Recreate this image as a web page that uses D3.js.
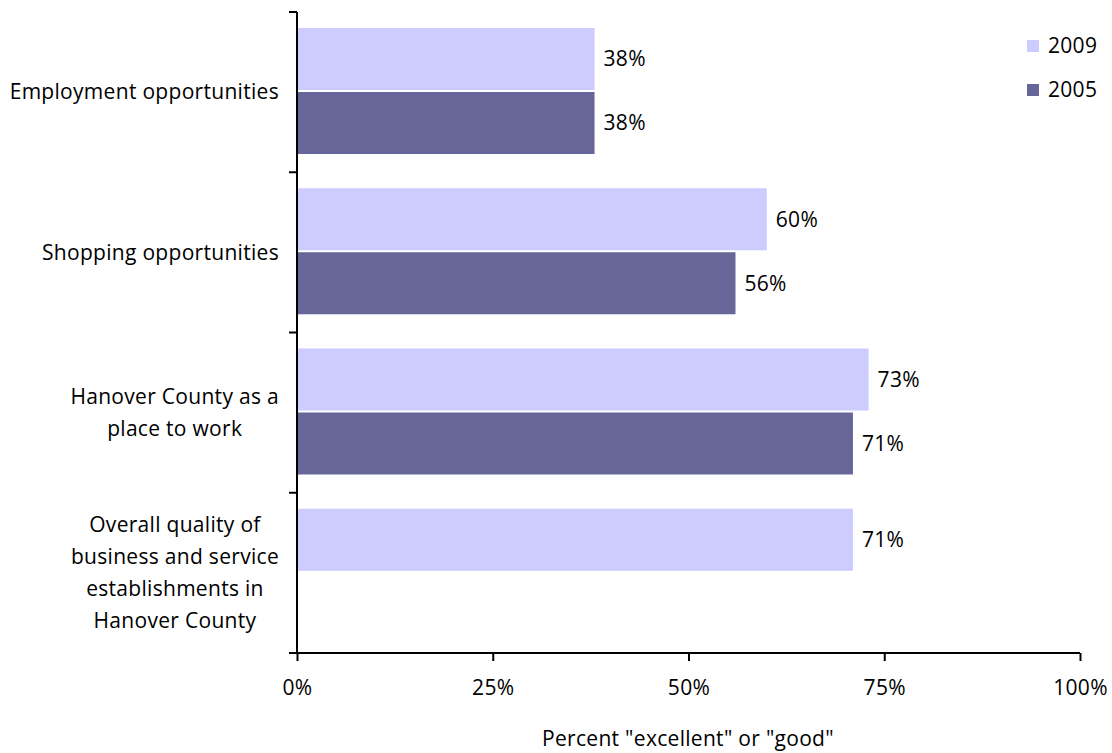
<!DOCTYPE html>
<html>
<head>
<meta charset="utf-8">
<script src="https://cdn.jsdelivr.net/npm/d3@7"></script>
<style>
  html, body { margin: 0; padding: 0; background: #fff; }
  svg { display: block; font-family: "Open Sans", "Lato", sans-serif; }
  text { letter-spacing: 0.3px; }
</style>
</head>
<body>
<svg id="chart" width="1112" height="753"></svg>
<script>
// Survey categories (top to bottom), each label split into display lines
const categories = [
  "Employment opportunities",
  "Shopping opportunities",
  "Hanover County as a place to work",
  "Overall quality of business and service establishments in Hanover County"
];
const categoryLines = [
  ["Employment opportunities"],
  ["Shopping opportunities"],
  ["Hanover County as a", "place to work"],
  ["Overall quality of", "business and service", "establishments in", "Hanover County"]
];
const seriesNames = ["2009", "2005"];
const values2009 = [38, 60, 73, 71];
const values2005 = [38, 56, 71, null];
const xTicks = [0, 25, 50, 75, 100];
const seriesColors = ["#ccccff", "#666699"];

(function draw() {
  const svg = d3.select("#chart");
  const plotLeft = 297, plotRight = 1080, plotTop = 12, plotBottom = 653;
  const fs = 21;

  const x = d3.scaleLinear().domain([0, 100]).range([plotLeft, plotRight]);
  const y = d3.scaleBand().domain(categories).range([plotTop, plotBottom]).padding(0);
  const inner = d3.scaleBand().domain(seriesNames).range([16, 142]).paddingInner(0.03125);
  const color = d3.scaleOrdinal().domain(seriesNames).range(seriesColors);

  const rows = categories.map((c, i) => ({
    cat: c,
    vals: [
      { s: "2009", v: values2009[i] },
      { s: "2005", v: values2005[i] }
    ].filter(d => d.v !== null)
  }));

  // Bars
  const groups = svg.append("g").selectAll("g.cat").data(rows).join("g")
    .attr("class", "cat")
    .attr("transform", d => `translate(0,${y(d.cat)})`);

  groups.selectAll("rect").data(d => d.vals).join("rect")
    .attr("x", x(0))
    .attr("y", d => inner(d.s))
    .attr("width", d => x(d.v) - x(0))
    .attr("height", inner.bandwidth())
    .attr("fill", d => color(d.s));

  // Value labels
  groups.selectAll("text.val").data(d => d.vals).join("text")
    .attr("class", "val")
    .attr("x", d => x(d.v) + 9)
    .attr("y", d => inner(d.s) + inner.bandwidth() / 2)
    .attr("dy", "0.35em")
    .attr("font-size", fs)
    .attr("fill", "#000")
    .text(d => d.v + "%");

  // Y axis: line with tick marks at band boundaries
  const yAxisG = svg.append("g");
  yAxisG.append("line")
    .attr("x1", plotLeft).attr("x2", plotLeft)
    .attr("y1", plotTop).attr("y2", plotBottom)
    .attr("stroke", "#000").attr("stroke-width", 2);
  const boundaries = categories.map(c => y(c)).concat([plotBottom]);
  yAxisG.selectAll("line.tick").data(boundaries).join("line")
    .attr("class", "tick")
    .attr("x1", plotLeft - 8).attr("x2", plotLeft)
    .attr("y1", d => d).attr("y2", d => d)
    .attr("stroke", "#000").attr("stroke-width", 2);

  // Category labels: lines centered within each block, block right edge near the axis
  const labelG = svg.append("g").attr("font-size", fs).attr("fill", "#000");
  categories.forEach((c, i) => {
    const lines = categoryLines[i];
    const t = labelG.append("text").attr("text-anchor", "middle");
    const lh = 32;
    const cy = y(c) + y.bandwidth() / 2;
    const startY = cy - (lines.length - 1) * lh / 2;
    lines.forEach((ln, k) => {
      t.append("tspan").attr("y", startY + k * lh).attr("dy", "0.35em").text(ln);
    });
    let maxW = 0;
    t.selectAll("tspan").each(function () { maxW = Math.max(maxW, this.getComputedTextLength()); });
    t.selectAll("tspan").attr("x", 279 - maxW / 2);
  });

  // X axis
  const xAxis = d3.axisBottom(x).tickValues(xTicks).tickSize(8).tickSizeOuter(0).tickFormat(d => d + "%");
  const xg = svg.append("g").attr("transform", `translate(0,${plotBottom})`).call(xAxis);
  xg.select(".domain").attr("stroke", "#000").attr("stroke-width", 2)
    .attr("d", `M${plotLeft - 8},0H${plotRight}`);
  xg.selectAll(".tick line").attr("stroke", "#000").attr("stroke-width", 2);
  xg.selectAll(".tick text")
    .attr("font-family", "'Open Sans', Lato, sans-serif")
    .attr("font-size", fs).attr("fill", "#000").attr("y", 27);

  svg.append("text")
    .attr("x", 688).attr("y", 746)
    .attr("text-anchor", "middle").attr("font-size", fs).attr("fill", "#000")
    .text('Percent "excellent" or "good"');

  // Legend
  const legend = svg.append("g").attr("transform", "translate(1027,40)");
  seriesNames.forEach((s, i) => {
    const row = legend.append("g").attr("transform", `translate(0,${i * 44})`);
    row.append("rect").attr("width", 12).attr("height", 12).attr("fill", color(s));
    row.append("text").attr("x", 21).attr("y", 6).attr("dy", "0.35em")
      .attr("font-size", fs).attr("fill", "#000").text(s);
  });
})();
</script>
</body>
</html>
